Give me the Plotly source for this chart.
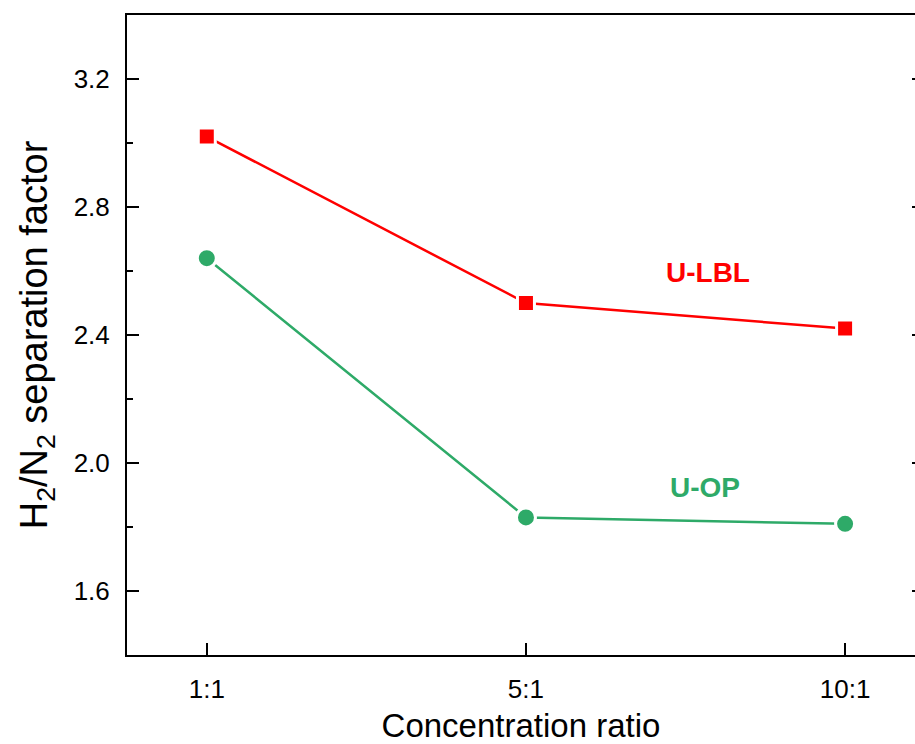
import plotly.graph_objects as go

categories = ["1:1", "5:1", "10:1"]
u_lbl = [3.02, 2.50, 2.42]
u_op = [2.64, 1.83, 1.81]
y_ticks = [1.6, 2.0, 2.4, 2.8, 3.2]
y_tick_labels = ["1.6", "2.0", "2.4", "2.8", "3.2"]

RED = "#FF0000"
GREEN = "#2EAA68"
FONT = "Liberation Sans, Arial, sans-serif"

fig = go.Figure()
fig.add_trace(go.Scatter(
    x=categories, y=u_lbl, mode="lines+markers", name="U-LBL",
    line=dict(color=RED, width=2.5),
    marker=dict(symbol="square", size=17, color=RED, line=dict(color="white", width=3)),
))
fig.add_trace(go.Scatter(
    x=categories, y=u_op, mode="lines+markers", name="U-OP",
    line=dict(color=GREEN, width=2.5),
    marker=dict(symbol="circle", size=19, color=GREEN, line=dict(color="white", width=3)),
))
# invisible trace to activate the right-hand tick axis
fig.add_trace(go.Scatter(x=categories, y=u_lbl, yaxis="y2", mode="markers",
                         marker=dict(opacity=0), hoverinfo="skip", showlegend=False))

fig.add_annotation(x=1.57, y=2.595, xref="x", yref="y", text="<b>U-LBL</b>", showarrow=False,
                   font=dict(family=FONT, size=28, color=RED))
fig.add_annotation(x=1.56, y=1.925, xref="x", yref="y", text="<b>U-OP</b>", showarrow=False,
                   font=dict(family=FONT, size=28, color=GREEN))

axis_font = dict(family=FONT, size=26, color="black")
fig.update_layout(
    width=915, height=744,
    margin=dict(l=127, r=0, t=15, b=89),
    paper_bgcolor="white", plot_bgcolor="white",
    showlegend=False,
    font=dict(family=FONT, color="black"),
    xaxis=dict(
        type="category", range=[-0.25, 2.219], automargin=False,
        showline=True, linecolor="black", linewidth=2, mirror=True,
        ticks="inside", ticklen=12, tickwidth=2, tickcolor="black",
        tickfont=axis_font, ticklabelstandoff=10,
        showgrid=False, zeroline=False,
        title=dict(text="Concentration ratio", font=dict(family=FONT, size=33), standoff=20),
    ),
    yaxis=dict(
        range=[1.4, 3.4], automargin=False,
        showline=True, linecolor="black", linewidth=2,
        ticks="inside", ticklen=12, tickwidth=2, tickcolor="black",
        tickvals=y_ticks, ticktext=y_tick_labels,
        minor=dict(ticks="inside", ticklen=6, tickwidth=2, tickcolor="black", dtick=0.2, tick0=1.6),
        tickfont=axis_font, ticklabelstandoff=10,
        showgrid=False, zeroline=False,
        title=dict(text="H<sub>2</sub>/N<sub>2</sub> separation factor", font=dict(family=FONT, size=38), standoff=14),
    ),
    yaxis2=dict(
        range=[1.4, 3.4], overlaying="y", side="right", automargin=False,
        showline=False, ticks="inside", ticklen=3, tickwidth=2, tickcolor="black",
        tickvals=y_ticks, showticklabels=False, showgrid=False, zeroline=False,
    ),
)

fig.write_html("out.html")
